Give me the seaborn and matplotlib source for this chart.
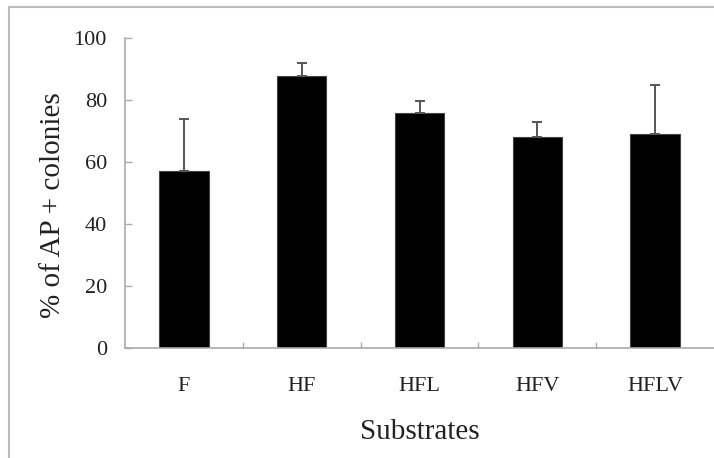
import matplotlib
matplotlib.use("Agg")
import matplotlib.pyplot as plt
import seaborn as sns
import pandas as pd
import numpy as np
from matplotlib.lines import Line2D

categories = ["F", "HF", "HFL", "HFV", "HFLV"]
means = [57.1, 87.8, 75.7, 68.1, 69.1]
upper_err = [16.7, 4.2, 3.9, 4.9, 15.7]

sns.set_theme(style="white")
plt.rcParams['font.family'] = ['Liberation Serif', 'DejaVu Serif']

fig = plt.figure(figsize=(7.14, 4.58), dpi=100)
ax = fig.add_axes([125/714, 1-348/458, 1-125/714, (348-38)/458])

df = pd.DataFrame({"Substrates": categories, "pct": means})
sns.barplot(data=df, x="Substrates", y="pct", ax=ax, color="black",
            width=0.42, errorbar=None, edgecolor="#444444", linewidth=0.8,
            saturation=1)
xs = np.arange(len(categories))
ax.errorbar(xs, means, yerr=[np.zeros(len(means)), upper_err], fmt="none",
            ecolor="#555555", elinewidth=1.4, capsize=3.6, capthick=1.4, zorder=1)

ax.set_xlim(-0.5, 4.5)
ax.set_ylim(0, 100)
ax.set_yticks([0, 20, 40, 60, 80, 100])
ax.set_xticks(xs)
ax.set_xticklabels(categories)
ax.set_xticks(np.arange(0.5, 4.5, 1), minor=True)
ax.tick_params(axis="x", which="major", length=0, labelsize=16, pad=21, colors="#222222")
ax.tick_params(axis="x", which="minor", direction="in", length=4, width=1, color="#aaaaaa", bottom=True)
ax.tick_params(axis="y", which="major", direction="in", length=5, width=1, color="#aaaaaa",
               labelsize=16, pad=13, left=True, labelcolor="#222222")

for s in ["top", "right"]:
    ax.spines[s].set_visible(False)
for s in ["left", "bottom"]:
    ax.spines[s].set_color("#aaaaaa")
    ax.spines[s].set_linewidth(1.2)

ax.set_xlabel("Substrates", fontsize=21, color="#222222", labelpad=16.6)
ax.set_ylabel("% of AP + colonies", fontsize=21, color="#222222", labelpad=5.5)
ax.yaxis.label.set_y(0.461)

fig.add_artist(Line2D([8.5/714, 8.5/714], [0, 1-7/458], transform=fig.transFigure,
                      color="#bbbbbb", lw=1.5))
fig.add_artist(Line2D([8.5/714, 1], [1-7/458, 1-7/458], transform=fig.transFigure,
                      color="#bbbbbb", lw=1.5))

fig.savefig("out.png", dpi=100)
